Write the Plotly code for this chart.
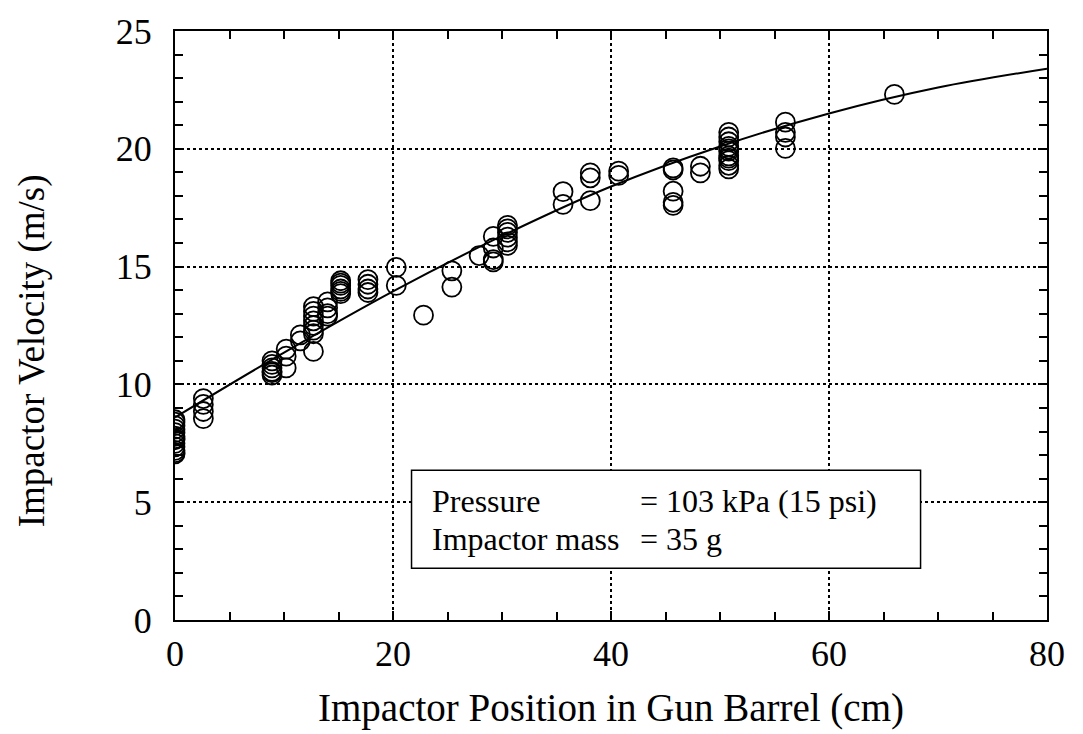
import plotly.graph_objects as go

# Measured data: impactor position (cm) and velocity (m/s)
pos_cm = (
    [0.0] * 13
    + [2.6] * 4
    + [8.9] * 6
    + [10.2] * 3
    + [11.5] * 2
    + [12.7] * 8
    + [14.0] * 4
    + [15.2] * 6
    + [17.7] * 4
    + [20.3] * 2
    + [22.8]
    + [25.4] * 2
    + [27.9]
    + [29.2] * 4
    + [30.5] * 6
    + [35.6] * 2
    + [38.1] * 3
    + [40.7] * 2
    + [45.7] * 5
    + [48.2] * 2
    + [50.8] * 11
    + [56.0] * 4
    + [66.0]
)
velocity_ms = (
    [7.05, 7.2, 7.35, 7.5, 7.65, 7.8, 7.95, 8.1, 8.25, 8.4, 8.5, 7.1, 7.7]
    + [9.4, 9.15, 8.85, 8.55]
    + [10.4, 10.55, 10.7, 10.85, 11.0, 10.5]
    + [11.5, 11.2, 10.7]
    + [12.1, 11.85]
    + [13.3, 13.1, 12.9, 12.7, 12.5, 12.3, 12.15, 11.4]
    + [13.5, 13.25, 13.0, 12.9]
    + [14.4, 14.3, 14.2, 14.05, 13.95, 13.85]
    + [14.45, 14.25, 14.05, 13.9]
    + [14.97, 14.2]
    + [12.94]
    + [14.82, 14.13]
    + [15.47]
    + [16.28, 15.79, 15.3, 15.2]
    + [16.75, 16.6, 16.45, 16.25, 16.05, 15.9]
    + [18.18, 17.64]
    + [18.98, 18.77, 17.8]
    + [19.05, 18.87]
    + [19.19, 19.1, 18.2, 17.73, 17.6]
    + [19.26, 18.98]
    + [20.7, 20.5, 20.3, 20.1, 19.9, 19.7, 19.5, 19.3, 19.15, 20.0, 19.6]
    + [21.13, 20.7, 20.5, 20.02]
    + [22.31]
)

# Fitted curve
fit_x = [0, 10, 20, 30, 40, 50, 60, 70, 80]
fit_y = [8.6, 11.35, 13.95, 16.3, 18.4, 20.1, 21.5, 22.6, 23.4]

x_ticks = [0, 20, 40, 60, 80]
y_ticks = [0, 5, 10, 15, 20, 25]

note_labels = ["Pressure", "Impactor mass"]
note_values = ["= 103 kPa (15 psi)", "= 35 g"]

FONT = "Liberation Serif, Times New Roman, serif"

fig = go.Figure()
fig.add_trace(go.Scatter(
    x=fit_x, y=fit_y, mode="lines", line=dict(color="black", width=2, shape="spline"),
    showlegend=False, hoverinfo="skip"))
fig.add_trace(go.Scatter(
    x=pos_cm, y=velocity_ms, mode="markers",
    marker=dict(symbol="circle-open", size=19, color="black", line=dict(width=1.8, color="black")),
    showlegend=False))

axis_common = dict(
    showline=True, linecolor="black", linewidth=2, mirror="ticks",
    ticks="inside", ticklen=9, tickwidth=1.5, tickcolor="black",
    showgrid=True, gridcolor="black", griddash="dot", gridwidth=1.5,
    zeroline=False,
    tickfont=dict(family=FONT, size=36, color="black"),
)

fig.update_xaxes(
    range=[0, 80], tickvals=x_ticks, ticktext=[str(v) for v in x_ticks],
    minor=dict(dtick=5, ticks="inside", ticklen=8, tickwidth=1.5, tickcolor="black", showgrid=False),
    title=dict(text="Impactor Position in Gun Barrel (cm)", font=dict(family=FONT, size=39, color="black"), standoff=20),
    ticklabelstandoff=1,
    **axis_common)
fig.update_yaxes(
    range=[0, 25], tickvals=y_ticks, ticktext=[str(v) for v in y_ticks],
    minor=dict(dtick=1, ticks="inside", ticklen=8, tickwidth=1.5, tickcolor="black", showgrid=False),
    ticklabelstandoff=14,
    **axis_common)

# Y-axis title (placed slightly below the plot centre, as in the original)
fig.add_annotation(text="Impactor Velocity (m/s)", xref="paper", yref="paper",
                   x=-0.164, y=0.458, xanchor="center", yanchor="middle", textangle=-90,
                   showarrow=False, font=dict(family=FONT, size=37, color="black"))

# Annotation box
fig.add_shape(type="rect", xref="x", yref="y", x0=21.7, x1=68.4, y0=2.2, y1=6.36,
              line=dict(color="black", width=1.5), fillcolor="white", layer="above")
line_y = [5.03, 3.45]
for lab, val, yy in zip(note_labels, note_values, line_y):
    fig.add_annotation(x=23.4, y=yy, xref="x", yref="y", text=lab, showarrow=False,
                       xanchor="left", yanchor="middle", font=dict(family=FONT, size=32, color="black"))
    fig.add_annotation(x=42.5, y=yy, xref="x", yref="y", text=val, showarrow=False,
                       xanchor="left", yanchor="middle", font=dict(family=FONT, size=32, color="black"))

fig.update_layout(
    width=1083, height=734,
    margin=dict(l=175, r=36, t=22, b=111),
    paper_bgcolor="white", plot_bgcolor="white",
    font=dict(family=FONT, color="black"),
)

fig.write_html("out.html")
